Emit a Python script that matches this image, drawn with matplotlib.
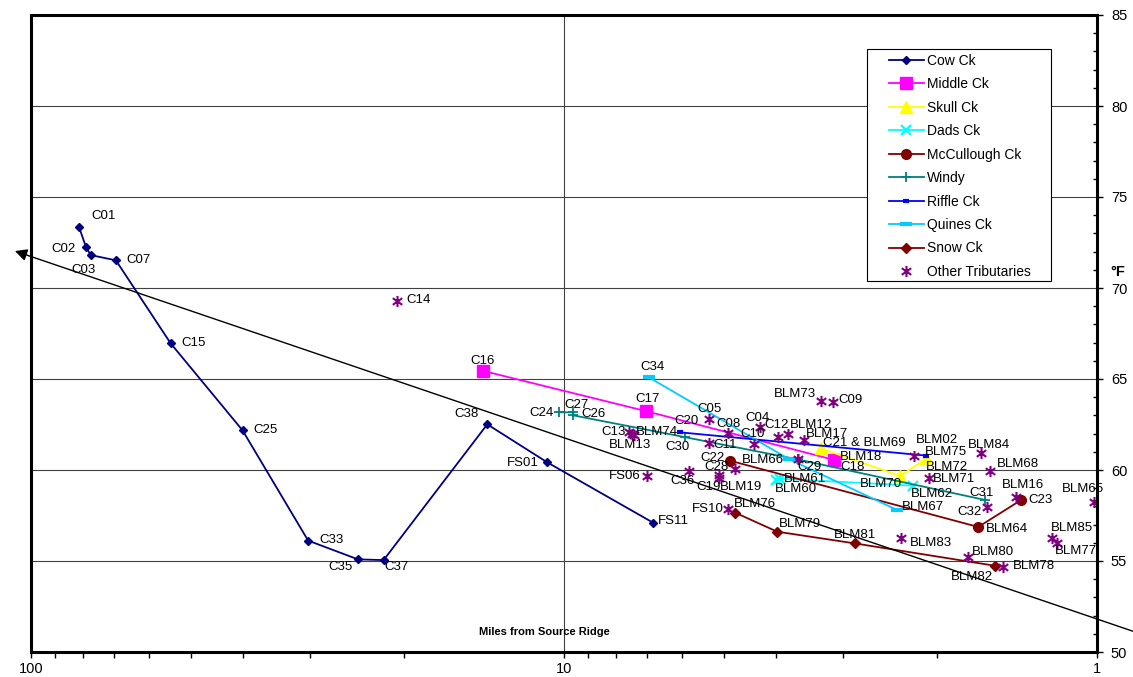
"""Stream temperature vs. miles from source ridge (log x, reversed)."""
import matplotlib
matplotlib.use("Agg")
import matplotlib.pyplot as plt
from matplotlib.path import Path
from matplotlib.patches import Rectangle
from matplotlib.ticker import FixedLocator, MultipleLocator, NullFormatter, FuncFormatter
import matplotlib.transforms as mtransforms

plt.rcParams["font.family"] = ["Liberation Sans", "DejaVu Sans"]

# ---- data (miles from source ridge, temperature °F) ----
COW_X = [81.3, 78.9, 77.3, 69.3, 54.7, 40.1, 30.2, 24.35, 21.8, 13.93, 10.75, 6.81]
COW_Y = [73.37, 72.27, 71.81, 71.52, 66.96, 62.18, 56.12, 55.09, 55.05, 62.51, 60.42, 57.11]
MIDDLE_X = [14.16, 7.03, 3.11]
MIDDLE_Y = [65.44, 63.24, 60.55]
SKULL_X = [3.30, 2.34, 2.09]
SKULL_Y = [61.19, 59.67, 60.64]
DADS_X = [4.00, 3.93, 2.21]
DADS_Y = [59.45, 59.52, 59.14]
MCCUL_X = [4.88, 1.67, 1.39]
MCCUL_Y = [60.51, 56.87, 58.34]
WINDY_X = [10.23, 9.60, 9.60, 5.92, 3.64, 1.62]
WINDY_Y = [63.17, 63.17, 63.00, 61.80, 60.58, 58.35]
RIFFLE_X = [6.06, 2.09]
RIFFLE_Y = [62.07, 60.79]
QUINES_X = [6.93, 3.78, 2.37]
QUINES_Y = [65.09, 60.59, 57.80]
SNOW_X = [4.77, 3.98, 2.85, 1.555]
SNOW_Y = [57.65, 56.61, 55.97, 54.74]
OTHER_X = [20.58, 7.00, 7.55, 7.45, 7.38, 5.35, 4.93, 5.35, 4.29, 4.41, 3.96, 3.80,
           3.55, 3.64, 4.78, 5.83, 5.11, 5.11, 4.93, 3.30, 3.13, 2.20, 2.07, 1.652,
           1.589, 1.61, 1.417, 1.013, 1.213, 1.19, 2.33, 1.743, 1.498]
OTHER_Y = [69.30, 59.67, 62.10, 62.00, 61.92, 62.78, 62.05, 61.47, 62.35, 61.41, 61.83, 61.96,
           61.63, 60.62, 60.04, 59.96, 59.70, 59.55, 57.84, 63.79, 63.72, 60.79, 59.54, 60.92,
           59.96, 57.95, 58.50, 58.26, 56.28, 56.01, 56.28, 55.20, 54.69]

# trend arrow ends (tip, tail)
TREND_TIP = (107.2, 72.03)
TREND_TAIL = (0.856, 51.14)

# site labels: text and where the text starts
LABELS = [
    ("C01", 76.9, 73.97), ("C02", 91.4, 72.14), ("C03", 83.9, 70.99), ("C07", 66.3, 71.54),
    ("C15", 52.2, 66.98), ("C25", 38.2, 62.20), ("C33", 28.8, 56.15), ("C35", 27.7, 54.69),
    ("C37", 21.7, 54.69), ("C14", 19.8, 69.34), ("C16", 15.0, 65.99), ("C38", 16.06, 63.08),
    ("FS01", 12.81, 60.37), ("C24", 11.62, 63.15), ("C27", 9.99, 63.57), ("C26", 9.29, 63.08),
    ("C34", 7.18, 65.64), ("C17", 7.36, 63.90), ("C13", 8.50, 62.07), ("BLM74", 7.33, 62.07),
    ("BLM13", 8.22, 61.39), ("C20", 6.22, 62.68), ("C30", 6.46, 61.28), ("C05", 5.62, 63.35),
    ("C08", 5.17, 62.53), ("C04", 4.56, 62.87), ("C12", 4.21, 62.47), ("C10", 4.66, 61.98),
    ("C11", 5.25, 61.37), ("C22", 5.56, 60.64), ("BLM66", 4.64, 60.55), ("C28", 5.46, 60.15),
    ("FS06", 8.22, 59.69), ("C36", 6.31, 59.40), ("C19", 5.65, 59.05), ("BLM19", 5.11, 59.05),
    ("FS10", 5.76, 57.87), ("BLM76", 4.81, 58.13), ("FS11", 6.68, 57.20),
    ("BLM73", 4.04, 64.16), ("C09", 3.05, 63.85), ("BLM12", 3.77, 62.47), ("BLM17", 3.52, 61.96),
    ("C21 & BLM69", 3.26, 61.47), ("BLM18", 3.04, 60.70), ("C18", 3.03, 60.15), ("C29", 3.65, 60.18),
    ("BLM61", 3.87, 59.49), ("BLM60", 4.02, 58.94), ("BLM70", 2.79, 59.23), ("BLM02", 2.19, 61.65),
    ("BLM75", 2.10, 61.01), ("BLM72", 2.09, 60.18), ("BLM71", 2.03, 59.49), ("BLM62", 2.23, 58.66),
    ("BLM84", 1.744, 61.37), ("BLM68", 1.543, 60.33), ("BLM16", 1.505, 59.18), ("C31", 1.736, 58.75),
    ("C32", 1.825, 57.71), ("C23", 1.346, 58.35), ("BLM65", 1.165, 58.94), ("BLM67", 2.32, 57.95),
    ("BLM64", 1.615, 56.74), ("BLM85", 1.222, 56.83), ("BLM77", 1.199, 55.55), ("BLM79", 3.96, 57.03),
    ("BLM81", 3.11, 56.45), ("BLM83", 2.24, 56.01), ("BLM80", 1.714, 55.51), ("BLM78", 1.44, 54.73),
    ("BLM82", 1.879, 54.14),
]

# Excel-like star marker: X plus a vertical bar
STAR = Path([(0, -1), (0, 1), (-0.85, -0.6), (0.85, 0.6), (-0.85, 0.6), (0.85, -0.6)],
            [Path.MOVETO, Path.LINETO] * 3)

fig = plt.figure(figsize=(11.33, 6.77), dpi=100)
ax = fig.add_axes([31 / 1133, 25 / 677, 1066 / 1133, 637 / 677])

lw = 1.3
ax.plot(COW_X, COW_Y, color="#000080", lw=lw, marker="D", ms=4.5, label="Cow Ck")
ax.plot(MIDDLE_X, MIDDLE_Y, color="#FF00FF", lw=lw, marker="s", ms=8, label="Middle Ck")
ax.plot(SKULL_X, SKULL_Y, color="#FFFF00", lw=lw, marker="^", ms=8, label="Skull Ck")
ax.plot(DADS_X, DADS_Y, color="#00FFFF", lw=lw, marker="x", ms=7, mew=1.6, label="Dads Ck")
ax.plot(MCCUL_X, MCCUL_Y, color="#800000", lw=lw, marker="o", ms=7, label="McCullough Ck")
ax.plot(WINDY_X, WINDY_Y, color="#008080", lw=lw, marker="+", ms=7, mew=1.3, label="Windy")
ax.plot(RIFFLE_X, RIFFLE_Y, color="#0000FF", lw=lw, marker="_", ms=5, mew=3, label="Riffle Ck")
ax.plot(QUINES_X, QUINES_Y, color="#00CCFF", lw=lw, marker="_", ms=8, mew=3, label="Quines Ck")
ax.plot(SNOW_X, SNOW_Y, color="#800000", lw=lw, marker="D", ms=5.5, label="Snow Ck")
ax.plot(OTHER_X, OTHER_Y, ls="none", marker=STAR, ms=8, mew=1.5, mfc="none",
        color="#800080", label="Other Tributaries")

for txt, x, y in LABELS:
    ax.text(x, y, txt, fontsize=9.5, ha="left", va="center", color="black")

ax.annotate("", xy=TREND_TIP, xytext=TREND_TAIL, annotation_clip=False,
            arrowprops=dict(arrowstyle="-|>", color="black", lw=1.0,
                            mutation_scale=18, shrinkA=0, shrinkB=0, clip_on=False))

# axes
ax.set_xscale("log")
ax.set_xlim(100, 1)
ax.set_ylim(50, 85)
ax.xaxis.set_major_locator(FixedLocator([100, 10, 1]))
ax.xaxis.set_major_formatter(FuncFormatter(lambda v, p: f"{v:g}"))
ax.xaxis.set_minor_formatter(NullFormatter())
ax.yaxis.tick_right()
ax.yaxis.set_major_locator(MultipleLocator(5))
ax.yaxis.set_minor_locator(MultipleLocator(1))
ax.tick_params(axis="x", which="both", direction="out", length=4, width=1, pad=3, labelsize=10.5)
ax.tick_params(axis="y", which="major", direction="out", length=4, width=1, pad=6, labelsize=10.5)
ax.tick_params(axis="y", which="minor", direction="in", length=3, width=1)
for s in ax.spines.values():
    s.set_linewidth(2.2)
ax.grid(axis="y", which="major", color="#404040", lw=0.8)
ax.grid(axis="x", which="major", color="#404040", lw=0.8)

ax.text(1.013, 70.9, "°F", fontsize=10.5, fontweight="bold", va="center",
        transform=mtransforms.blended_transform_factory(ax.transAxes, ax.transData))
ax.text(0.482, 0.031, "Miles from Source Ridge", fontsize=8, fontweight="bold",
        ha="center", va="center", transform=ax.transAxes)

# legend with its own frame
ax.add_patch(Rectangle((0.784, 0.582), 0.173, 0.365, transform=ax.transAxes,
                       facecolor="white", edgecolor="black", lw=0.8, zorder=4.9))
leg = ax.legend(loc="upper left", bbox_to_anchor=(0.805, 0.939), frameon=False,
                fontsize=10, borderpad=0, borderaxespad=0, handlelength=2.5,
                handletextpad=0.25, labelspacing=0.68)
leg.set_zorder(5)

fig.savefig("out.png", dpi=100)
